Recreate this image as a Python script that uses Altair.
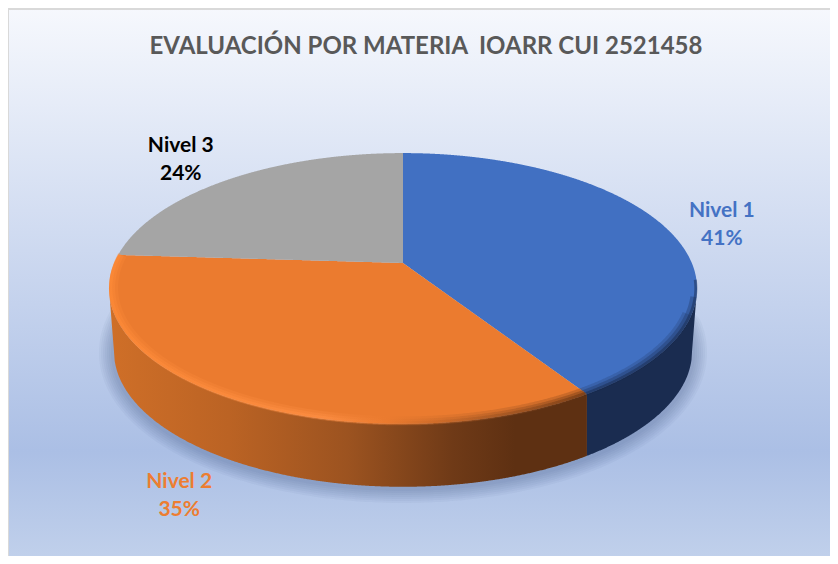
import numpy as np
import pandas as pd
import altair as alt

categories = ["Nivel 1", "Nivel 2", "Nivel 3"]
shares = [41, 35, 24]
top_colors = ["#4170c2", "#eb7b2f", "#a5a5a5"]
label_colors = ["#4472c4", "#ed7d31", "#000000"]
title_text = "EVALUACIÓN POR MATERIA \u00a0IOARR CUI 2521458"

# projection of the tilted disc
R_PX = 288.8
W, H = 822, 548
TILT = 0.188
FLAT = 0.4522
DROP = 0.218
SHRINK = 0.983
LINE = 28
xs = alt.Scale(domain=[-395 / R_PX, (W - 395) / R_PX], range=[0, W], nice=False, zero=False)
ys = alt.Scale(domain=[-(H - 255) / R_PX, 255 / R_PX], range=[H, 0], nice=False, zero=False)


def rim(frac, r=1.0):
    a = 2 * np.pi * np.asarray(frac, dtype=float)
    u, v = r * np.sin(a), r * np.cos(a)
    d = 1 + TILT * v
    return u / d, FLAT * v / d


def crossings(px, py, grid):
    top, bot = [], []
    n = len(px)
    for g in grid:
        c = []
        for i in range(n):
            j = (i + 1) % n
            x0, x1 = px[i], px[j]
            if min(x0, x1) <= g <= max(x0, x1):
                if x0 == x1:
                    c += [py[i], py[j]]
                else:
                    c.append(py[i] + (g - x0) / (x1 - x0) * (py[j] - py[i]))
        top.append(max(c) if c else np.nan)
        bot.append(min(c) if c else np.nan)
    return np.array(top), np.array(bot)


def frame(x, y, y2=None):
    d = {"x": x, "y": y, "i": np.arange(len(x))}
    if y2 is not None:
        d["y2"] = y2
    return pd.DataFrame(d)


def band(df, **mark):
    return alt.Chart(df).mark_area(**mark).encode(
        x=alt.X("x:Q", scale=xs, axis=None),
        y=alt.Y("y:Q", scale=ys, axis=None),
        y2="y2:Q",
    )


def path(df, **mark):
    return alt.Chart(df).mark_line(**mark).encode(
        x=alt.X("x:Q", scale=xs, axis=None),
        y=alt.Y("y:Q", scale=ys, axis=None),
        order="i:Q",
    )


def hgrad(*stops):
    return alt.Gradient(
        gradient="linear", x1=0, x2=1, y1=0, y2=0,
        stops=[alt.GradientStop(offset=o, color=c) for o, c in stops],
    )


cum = np.cumsum([0] + shares) / sum(shares)
layers = []

# background
bg = alt.Chart(alt.Data(values=[{}])).mark_rect(
    color=alt.Gradient(
        gradient="linear", x1=0, x2=0, y1=0, y2=1,
        stops=[
            alt.GradientStop(offset=0, color="#f6f8fd"),
            alt.GradientStop(offset=0.78, color="#abbfe5"),
            alt.GradientStop(offset=1, color="#c4d3ec"),
        ],
    ),
    stroke="#d9d9d9", strokeWidth=2,
).encode(x=alt.value(0), x2=alt.value(W + 20), y=alt.value(1), y2=alt.value(H + 20))
layers.append(bg)

# rims
t = np.linspace(0, 1, 1441)
ux, uy = rim(t)
lx, ly = ux * SHRINK, uy - DROP

# soft shadow
ts = np.linspace(0.25, 0.76, 300)
sx, sy = rim(ts)
for w in [30, 26, 22, 18, 14, 10, 6]:
    layers.append(path(frame(sx * SHRINK, sy - DROP - 0.004), stroke="#33476f", strokeWidth=w, opacity=0.045, strokeCap="round"))

# wall outline (front half)
li = np.argmin(ux)
ri = np.argmax(ux)
front_x = np.concatenate([[ux[li]], lx[ri:li + 1][::-1], [ux[ri]]])
front_y = np.concatenate([[uy[li]], ly[ri:li + 1][::-1], [uy[ri]]])
fr_u_x, fr_u_y = ux[ri:li + 1][::-1], uy[ri:li + 1][::-1]
split_x = rim(cum[1])[0]

gl = np.linspace(ux[li], split_x, 500)
layers.append(band(
    frame(gl, np.interp(gl, fr_u_x, fr_u_y), np.interp(gl, front_x, front_y)),
    color=hgrad((0, "#cf6f28"), (0.25, "#bb6324"), (0.5, "#9c5320"), (0.72, "#6f3a17"), (0.85, "#5e3012"), (1, "#5e3012")),
))
gr = np.linspace(split_x, ux[ri], 200)
layers.append(band(
    frame(gr, np.interp(gr, fr_u_x, fr_u_y), np.interp(gr, front_x, front_y)),
    color="#1a2c50",
))

# top faces
for k, col in enumerate(top_colors):
    tt = np.linspace(cum[k], cum[k + 1], 400)
    rx, ry = rim(tt)
    px = np.concatenate([[0.0], rx])
    py = np.concatenate([[0.0], ry])
    grid = np.linspace(px.min() + 1e-6, px.max() - 1e-6, 500)
    a, b = crossings(px, py, grid)
    layers.append(band(frame(grid, a, b), color=col))

# bevel highlights
ta = np.linspace(cum[1], cum[2], 500)
grad_o = hgrad((0, "#ff8b38"), (0.45, "#ff9045"), (0.58, "#eb7b2f"), (0.85, "#8c4a1e"), (1, "#5e2f10"))
for r, w, o in [(0.985, 9, 0.25), (0.99, 6, 0.35), (0.994, 3, 0.5)]:
    ox, oy = rim(ta, r)
    layers.append(path(frame(ox, oy), strokeWidth=w, strokeCap="butt", opacity=o, stroke=grad_o))
for start, r, w, o in [(0.31, 0.985, 9, 0.2), (0.29, 0.99, 6, 0.3), (0.27, 0.996, 3, 0.5)]:
    bx, by = rim(np.linspace(start, cum[1], 300), r)
    layers.append(path(frame(bx, by), strokeWidth=w, strokeCap="butt", opacity=o, stroke="#1a2c50"))

# labels
mid = (cum[:-1] + cum[1:]) / 2
mx, my = rim(mid)
reach_x = [1.21, 1.276, 1.278]
reach_y = [1.11, 1.74, 1.23]
labels = pd.DataFrame({
    "x": mx * reach_x,
    "y": my * reach_y + (LINE / 2) / R_PX,
    "t": [f"{c}\n{s}%" for c, s in zip(categories, shares)],
    "c": categories,
})
layers.append(alt.Chart(labels).mark_text(
    font="Lato", fontWeight="bold", fontSize=21, lineBreak="\n", lineHeight=LINE, align="center", baseline="middle",
).encode(
    x=alt.X("x:Q", scale=xs, axis=None),
    y=alt.Y("y:Q", scale=ys, axis=None),
    text="t:N",
    color=alt.Color("c:N", scale=alt.Scale(domain=categories, range=label_colors), legend=None),
))

chart = alt.layer(*layers).resolve_scale(color="independent").properties(
    width=W, height=H, padding=0, autosize=alt.AutoSizeParams(type="none"),
    title=alt.TitleParams(title_text, anchor="middle", orient="top", offset=-63, dx=7, font="Lato", fontWeight="bold",
                          fontSize=24, color="#595959", baseline="middle"),
).configure_view(stroke=None)

chart.save("out.html", embed_options={"renderer": "svg", "actions": False})
